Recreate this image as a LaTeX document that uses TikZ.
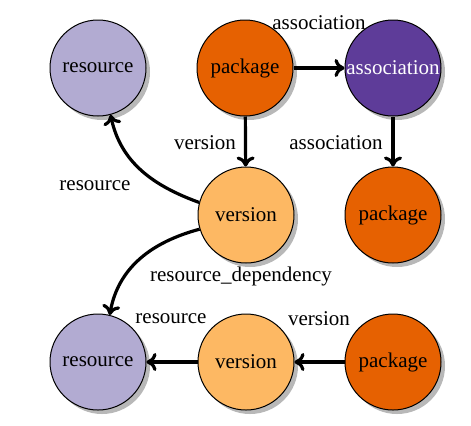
\documentclass[tikz,border=0pt]{standalone}
\usepackage{fontspec}
\setmainfont{Liberation Serif}
\usetikzlibrary{shadows,arrows.meta}
\definecolor{cres}{HTML}{B2ABD2}
\definecolor{cpkg}{HTML}{E66101}
\definecolor{cass}{HTML}{5E3C99}
\definecolor{cver}{HTML}{FDB863}
\begin{document}
\begin{tikzpicture}[x=0.5pt,y=-0.5pt,
  font=\fontsize{10.5}{12}\selectfont,
  ent/.style={circle,draw=black,line width=0.5pt,minimum size=48pt,inner sep=0pt,
    drop shadow={shadow xshift=2pt,shadow yshift=-2pt,fill=black!35,opacity=0.8}},
  res/.style={ent,fill=cres},
  pkg/.style={ent,fill=cpkg},
  ass/.style={ent,fill=cass,text=white},
  ver/.style={ent,fill=cver},
  edge/.style={line width=1.6pt,-{To[length=5pt,width=9pt]}},
  lbl/.style={inner sep=1pt}]
\useasboundingbox (0,0) rectangle (471,425);
\node[res] (r1) at (98,68) {resource};
\node[pkg] (p1) at (245,68) {package};
\node[ass] (a1) at (393,68) {association};
\node[ver] (v1) at (246,215) {version};
\node[pkg] (p2) at (393,215) {package};
\node[res] (r2) at (98,362) {resource};
\node[ver] (v2) at (246,362) {version};
\node[pkg] (p3) at (393,362) {package};

\draw[edge] (p1) -- (a1);
\node[lbl] (l1) at (319,23) {association};
\draw[edge] (p1) -- (v1);
\node[lbl] (l2) at (205,143) {version};
\draw[edge] (a1) -- (p2);
\node[lbl] (l3) at (336,143) {association};
\draw[edge] (v1.165) to[out=160,in=-78] (r1.-75);
\node[lbl] (l4) at (95,186) {resource};
\draw[edge] (v1.197) to[out=195,in=80] (r2.76);
\node[lbl] (l5) at (241,276) {resource\_dependency};
\draw[edge] (v2) -- (r2);
\node[lbl] (l6) at (171,319) {resource};
\draw[edge] (p3) -- (v2);
\node[lbl] (l7) at (319,319) {version};
\end{tikzpicture}
\end{document}
